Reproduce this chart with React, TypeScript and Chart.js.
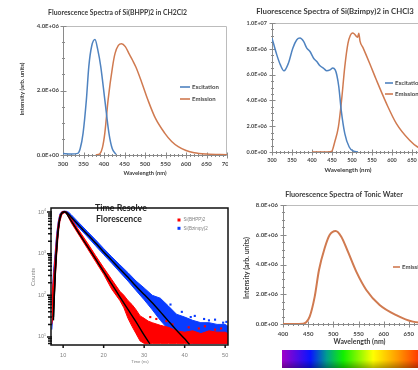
import React, { useEffect, useRef } from "react";
import { Chart, registerables } from "chart.js";

Chart.register(...registerables);

// ---------------- Chart 1: Si(BHPP)2 in CH2Cl2 ----------------
const bhppExcWavelength = [300, 320, 336, 342, 349, 357, 363, 370, 378, 385, 392, 402, 412, 420, 429];
const bhppExcIntensity = [0.05e6, 0.03e6, 0.05e6, 0.2e6, 0.68e6, 1.71e6, 2.75e6, 3.38e6, 3.58e6, 3.25e6, 2.75e6, 1.71e6, 0.68e6, 0.2e6, 0.02e6];
const bhppEmWavelength = [380, 390, 396, 402, 410, 421, 427, 435, 443, 452, 462, 470, 478, 492, 507, 525, 548, 565, 581, 600, 620, 650, 700];
const bhppEmIntensity = [0, 0.04e6, 0.22e6, 0.68e6, 1.71e6, 2.75e6, 3.15e6, 3.4e6, 3.45e6, 3.36e6, 3.12e6, 2.93e6, 2.72e6, 2.25e6, 1.71e6, 1.15e6, 0.68e6, 0.42e6, 0.26e6, 0.14e6, 0.07e6, 0.03e6, 0.01e6];
const bhppXTicks = [300, 350, 400, 450, 500, 550, 600, 650, 700];
const bhppYTicks = [0, 2e6, 4e6];

// ---------------- Chart 2: Si(Bzimpy)2 in CHCl3 ----------------
const bzExcWavelength = [300, 312, 321, 330, 341, 352, 362, 370, 379, 387, 395, 404, 412, 420, 429, 437, 445, 452, 458, 462, 467, 473, 482, 493, 503, 515];
const bzExcIntensity = [8.83e6, 7.53e6, 6.75e6, 6.29e6, 6.88e6, 8.05e6, 8.7e6, 8.83e6, 8.57e6, 8.05e6, 7.79e6, 7.27e6, 7.01e6, 6.68e6, 6.49e6, 6.29e6, 6.36e6, 6.52e6, 6.36e6, 5.97e6, 5.06e6, 3.25e6, 1.43e6, 0.39e6, 0.08e6, 0];
const bzEmWavelength = [400, 430, 449, 457, 466, 474, 482, 490, 496, 501, 506, 511, 514, 517, 520, 528, 544, 561, 586, 611, 644, 664, 700];
const bzEmIntensity = [0, 0, 0.05e6, 0.8e6, 1.95e6, 4.03e6, 6.62e6, 8.44e6, 9.05e6, 9.22e6, 9.15e6, 8.96e6, 8.9e6, 9.2e6, 8.6e6, 8.05e6, 6.88e6, 5.58e6, 3.77e6, 2.2e6, 0.91e6, 0.39e6, 0.1e6];
const bzXTicks = [300, 350, 400, 450, 500, 550, 600, 650, 700];
const bzYTicks = [0, 2e6, 4e6, 6e6, 8e6, 1e7];

// ---------------- Chart 3: Time resolved fluorescence ----------------
const decayXTicks = [10, 20, 30, 40, 50];
const decayYDecades = [1, 2, 3, 4];
const redTime = [7.2, 7.6, 8.0, 8.4, 8.8, 9.2, 9.7, 10.3, 10.8, 12, 14, 16, 18, 20, 22, 24, 25, 26, 27, 28, 29, 30, 31, 32, 34, 36, 38, 40, 42, 44, 46, 48, 50, 50.7];
const redLow = [20, 40, 200, 900, 3000, 6000, 8800, 9600, 9400, 5500, 2700, 1330, 650, 320, 140, 75, 50, 28, 18, 12, 8, 7, 7, 7, 7, 7, 7, 7, 7, 7, 7, 7, 7, 7];
const redHigh = [90, 250, 800, 2500, 5500, 8500, 10200, 10400, 10200, 6900, 3500, 1800, 900, 460, 240, 125, 100, 75, 60, 45, 32, 28, 24, 22, 19, 17, 14, 13, 14, 12, 14, 13, 13, 12];
const blueTime = [7.2, 7.6, 8.0, 8.4, 8.8, 9.2, 9.7, 10.3, 10.8, 11.4, 12, 14, 16, 18, 20, 22, 24, 26, 28, 30, 32, 34, 36, 38, 40, 42, 44, 46, 48, 50, 50.7];
const blueLow = [15, 50, 300, 1200, 3500, 6500, 9000, 9800, 9600, 8500, 6600, 4100, 2550, 1550, 950, 590, 360, 220, 130, 78, 45, 25, 15, 10, 8, 7, 7, 7, 7, 7, 7];
const blueHigh = [60, 350, 1000, 3000, 6000, 9000, 10300, 10500, 10400, 9800, 8600, 5400, 3400, 2150, 1330, 840, 540, 350, 220, 150, 100, 85, 55, 35, 30, 25, 22, 22, 20, 20, 18];
const redOutlierTime = [31.5, 33, 35.5, 37, 41, 43.5, 45, 47.5, 49];
const redOutlierCounts = [30, 27, 24, 20, 17, 16, 18, 15, 16];
const blueOutlierTime = [36.5, 39.3, 41.5, 42.5, 44.8, 46, 47.5, 49.5, 50.3];
const blueOutlierCounts = [60, 40, 30, 32, 27, 25, 26, 22, 23];
const redFitTime = [7.6, 8.0, 8.4, 8.8, 9.2, 9.6, 10.1, 10.6, 12, 14, 16, 18, 20, 22, 24, 26, 28, 30, 31.4];
const redFitCounts = [25, 250, 1300, 3800, 7000, 9200, 10000, 9800, 6100, 3000, 1500, 750, 370, 185, 92, 46, 23, 11, 6.8];
const blueFitTime = [7.6, 8.0, 8.4, 8.8, 9.2, 9.6, 10.2, 10.8, 12, 14, 16, 18, 20, 22, 24, 26, 28, 30, 32, 34, 36, 38, 40, 41.2];
const blueFitCounts = [30, 280, 1400, 4000, 7200, 9300, 10000, 9900, 7500, 4650, 2900, 1800, 1100, 690, 430, 270, 165, 105, 66, 40, 24, 14.5, 9, 6.6];
const decaySeriesNames = ["Si(BHPP)2", "Si(Bzimpy)2"];

// ---------------- Chart 4: Tonic water ----------------
const tonicWavelength = [400, 420, 440, 446, 453, 463, 471.5, 482.7, 492.6, 504.6, 515.8, 529, 545.6, 565.5, 592, 625, 658, 700];
const tonicIntensity = [0, 0, 0.02e6, 0.12e6, 0.49e6, 1.84e6, 3.63e6, 5.09e6, 5.98e6, 6.25e6, 5.87e6, 4.86e6, 3.52e6, 2.29e6, 1.28e6, 0.6e6, 0.16e6, 0.05e6];
const tonicXTicks = [400, 450, 500, 550, 600, 650, 700];
const tonicYTicks = [0, 2e6, 4e6, 6e6, 8e6];
const rainbowStops: [number, string][] = [
  [0, "#a000c8"],
  [0.21, "#0814ff"],
  [0.33, "#00a08c"],
  [0.45, "#10f000"],
  [0.67, "#ffff00"],
  [0.85, "#ff9a00"],
  [1, "#ff3c00"],
];

const BLUE = "#4f83c0";
const ORANGE = "#d07a50";
const TEXT = "#474747";
const TITLE = "#3a3a3a";

const pts = (xs: number[], ys: number[]) => xs.map((x, i) => ({ x, y: ys[i] }));

function sci(v: number) {
  if (v === 0) return "0.0E+00";
  const e = Math.floor(Math.log10(v) + 1e-9);
  const m = v / Math.pow(10, e);
  return `${m.toFixed(1)}E+${String(e).padStart(2, "0")}`;
}

// ---------- plugins ----------
const textPlugin = {
  id: "texts",
  afterDraw(chart: any, _a: any, opts: any) {
    const ctx = chart.ctx;
    (opts.items || []).forEach((t: any) => {
      ctx.save();
      const fam = t.family || "Lato";
      const w = t.weight || "bold";
      let size = t.size || 7;
      if (t.fitWidth) {
        ctx.font = `${w} 20px ${fam}`;
        size = (20 * t.fitWidth) / ctx.measureText(t.text).width;
      }
      ctx.font = `${w} ${size}px ${fam}`;
      ctx.fillStyle = t.color || TEXT;
      ctx.textAlign = t.align || "center";
      ctx.textBaseline = "middle";
      ctx.translate(t.x, t.y);
      if (t.rotate) ctx.rotate(-Math.PI / 2);
      ctx.fillText(t.text, 0, 0);
      ctx.restore();
    });
  },
};

const excelAxesPlugin = {
  id: "excelAxes",
  beforeDatasetsDraw(chart: any, _a: any, o: any) {
    const { ctx, chartArea: a } = chart;
    const xs = chart.scales.x;
    const ys = chart.scales.y;
    const L = Math.round(a.left) + 0.5;
    const B = Math.round(a.bottom) + 0.5;
    const T = Math.round(a.top) + 0.5;
    const R = Math.round(a.right) - 0.5;
    ctx.save();
    ctx.lineWidth = 1;
    ctx.strokeStyle = o.frameColor;
    ctx.beginPath();
    ctx.moveTo(L, T);
    ctx.lineTo(R, T);
    ctx.lineTo(R, B);
    ctx.stroke();
    ctx.strokeStyle = o.axisColor;
    ctx.beginPath();
    ctx.moveTo(L, T);
    ctx.lineTo(L, B);
    ctx.lineTo(R, B);
    const isMajor = (v: number, step: number) => Math.abs(v / step - Math.round(v / step)) < 1e-6;
    for (let v = xs.min; v <= xs.max + 1e-6; v += o.xMinor) {
      const px = Math.round(xs.getPixelForValue(v)) + 0.5;
      const h = isMajor(v, o.xMajor) ? 3 : 1.5;
      ctx.moveTo(px, B - h);
      ctx.lineTo(px, B + h);
    }
    for (let v = ys.min; v <= ys.max * (1 + 1e-9); v += o.yMinor) {
      const py = Math.round(ys.getPixelForValue(v)) + 0.5;
      const h = isMajor(v, o.yMajor) ? 3 : 1.5;
      ctx.moveTo(L - h, py);
      ctx.lineTo(L + h, py);
    }
    ctx.stroke();
    ctx.restore();
  },
};

const lineLegendPlugin = {
  id: "lineLegend",
  afterDraw(chart: any, _a: any, o: any) {
    const ctx = chart.ctx;
    ctx.save();
    chart.data.datasets.forEach((ds: any, i: number) => {
      const y = o.y + i * o.gap;
      ctx.strokeStyle = ds.borderColor;
      ctx.lineWidth = o.lineWidth;
      ctx.beginPath();
      ctx.moveTo(o.x, y);
      ctx.lineTo(o.x + o.len, y);
      ctx.stroke();
      ctx.fillStyle = TEXT;
      ctx.font = `bold ${o.size}px Lato`;
      ctx.textAlign = "left";
      ctx.textBaseline = "middle";
      ctx.fillText(ds.label, o.x + o.len + 2, y);
    });
    ctx.restore();
  },
};

const rainbowPlugin = {
  id: "rainbow",
  afterDraw(chart: any, _a: any, o: any) {
    if (!o || !o.show) return;
    const ctx = chart.ctx;
    ctx.save();
    const g = ctx.createLinearGradient(o.x, 0, o.x + o.w, 0);
    rainbowStops.forEach(([p, c]) => g.addColorStop(p, c));
    ctx.fillStyle = g;
    ctx.fillRect(o.x, o.y, o.w, o.h);
    const v = ctx.createLinearGradient(0, o.y, 0, o.y + o.h);
    v.addColorStop(0, "rgba(0,0,0,0)");
    v.addColorStop(0.55, "rgba(0,0,0,0)");
    v.addColorStop(1, "rgba(0,0,0,0.3)");
    ctx.fillStyle = v;
    ctx.fillRect(o.x, o.y, o.w, o.h);
    ctx.restore();
  },
};

const decayAxesPlugin = {
  id: "decayAxes",
  afterDraw(chart: any, _a: any, o: any) {
    const { ctx, chartArea: a } = chart;
    const xs = chart.scales.x;
    const ys = chart.scales.y;
    ctx.save();
    ctx.strokeStyle = "#111";
    ctx.lineWidth = 1.5;
    ctx.strokeRect(a.left, a.top, a.right - a.left, a.bottom - a.top);
    ctx.beginPath();
    for (let e = 0; e <= 4; e++) {
      for (let m = 1; m <= 9; m++) {
        const v = m * Math.pow(10, e);
        if (v < ys.min || v > ys.max) continue;
        const py = ys.getPixelForValue(v);
        const len = m === 1 ? 4 : 3;
        ctx.moveTo(a.left - len, py);
        ctx.lineTo(a.left + 1, py);
      }
    }
    o.xTicks.forEach((v: number) => {
      const px = xs.getPixelForValue(v);
      ctx.moveTo(px, a.bottom);
      ctx.lineTo(px, a.bottom + 3);
    });
    ctx.stroke();
    ctx.fillStyle = "#808080";
    ctx.textBaseline = "middle";
    ctx.textAlign = "center";
    ctx.font = "5.5px 'Liberation Sans'";
    o.xTicks.forEach((v: number) => ctx.fillText(String(v), xs.getPixelForValue(v), a.bottom + 10));
    o.yDecades.forEach((e: number) => {
      const py = ys.getPixelForValue(Math.pow(10, e));
      ctx.font = "3.5px 'Liberation Sans'";
      ctx.textAlign = "right";
      const ew = ctx.measureText(String(e)).width;
      ctx.fillText(String(e), o.yLabelRight, py - 2);
      ctx.font = "5.5px 'Liberation Sans'";
      ctx.fillText("10", o.yLabelRight - ew, py);
    });
    chart.data.datasets
      .filter((d: any) => d.legendSquare)
      .forEach((d: any, i: number) => {
        const y = o.legendY + i * o.legendGap;
        ctx.fillStyle = d.legendSquare;
        ctx.fillRect(o.legendX - 1.5, y - 1.5, 3, 3);
        ctx.fillStyle = "#808080";
        ctx.font = "4.5px 'Liberation Sans'";
        ctx.textAlign = "left";
        ctx.fillText(d.label, o.legendX + 4.5, y);
      });
    ctx.restore();
  },
};

const zeroPadX = (h: number) => (ax: any) => {
  ax.height = h;
  ax.paddingLeft = 0;
  ax.paddingRight = 0;
  ax.paddingTop = 0;
  ax.paddingBottom = 0;
};
const zeroPadY = (w: number) => (ax: any) => {
  ax.width = w;
  ax.paddingLeft = 0;
  ax.paddingRight = 0;
  ax.paddingTop = 0;
  ax.paddingBottom = 0;
};

// ---------- configs ----------
function spectrumConfig(p: any) {
  return {
    type: "line",
    data: { datasets: p.datasets },
    plugins: [excelAxesPlugin, lineLegendPlugin, textPlugin, rainbowPlugin],
    options: {
      responsive: false,
      animation: false,
      devicePixelRatio: 1,
      events: [],
      layout: { autoPadding: false, padding: { left: 0, right: p.padRight, top: p.padTop, bottom: 0 } },
      scales: {
        x: {
          type: "linear",
          min: p.xMin,
          max: p.xMax,
          grid: { display: false, drawTicks: false },
          border: { display: false },
          afterBuildTicks: (ax: any) => {
            ax.ticks = p.xTicks.map((v: number) => ({ value: v }));
          },
          afterFit: zeroPadX(p.xAxisHeight),
          ticks: { autoSkip: false, maxRotation: 0, padding: p.tickPadX, color: TEXT, font: { family: "Lato", weight: "bold", size: p.tickSize } },
        },
        y: {
          type: "linear",
          min: 0,
          max: p.yMax,
          grid: { display: false, drawTicks: false },
          border: { display: false },
          afterBuildTicks: (ax: any) => {
            ax.ticks = p.yTicks.map((v: number) => ({ value: v }));
          },
          afterFit: zeroPadY(p.yAxisWidth),
          ticks: { padding: p.tickPadY, color: TEXT, font: { family: "Lato", weight: "bold", size: p.tickSize }, callback: (v: number) => sci(v) },
        },
      },
      plugins: {
        legend: { display: false },
        tooltip: { enabled: false },
        title: { display: false },
        excelAxes: { frameColor: "#bcbcbc", axisColor: "#8a8a8a", xMinor: 10, xMajor: 50, yMinor: p.yMinor, yMajor: p.yMajor },
        lineLegend: p.legend,
        texts: { items: p.texts },
        rainbow: p.rainbow || { show: false },
      },
    },
  };
}

const lineDs = (label: string, xs: number[], ys: number[], color: string, width: number) => ({
  label,
  data: pts(xs, ys),
  borderColor: color,
  backgroundColor: color,
  borderWidth: width,
  pointRadius: 0,
  cubicInterpolationMode: "monotone",
  fill: false,
});

const chart1 = () =>
  spectrumConfig({
    datasets: [
      lineDs("Excitation", bhppExcWavelength, bhppExcIntensity, BLUE, 1.5),
      lineDs("Emission", bhppEmWavelength, bhppEmIntensity, ORANGE, 1.5),
    ],
    xMin: 300, xMax: 700, xTicks: bhppXTicks, yMax: 4e6, yTicks: bhppYTicks, yMinor: 0.5e6, yMajor: 2e6,
    padRight: 2, padTop: 26, xAxisHeight: 25, yAxisWidth: 63, tickPadX: 5, tickPadY: 4, tickSize: 6,
    legend: { x: 180, y: 87, gap: 12, len: 10, size: 6, lineWidth: 1.6 },
    texts: [
      { text: "Fluorescence Spectra of Si(BHPP)2 in CH2Cl2", x: 117.5, y: 13, fitWidth: 139, color: TITLE },
      { text: "Intensity (arb. units)", x: 21.7, y: 89, fitWidth: 53, rotate: true, color: TITLE },
      { text: "Wavelength (nm)", x: 145, y: 173, fitWidth: 43, color: TITLE },
    ],
  });

const chart2 = () =>
  spectrumConfig({
    datasets: [
      lineDs("Excitation", bzExcWavelength, bzExcIntensity, BLUE, 1.5),
      lineDs("Emission", bzEmWavelength, bzEmIntensity, ORANGE, 1.5),
    ],
    xMin: 300, xMax: 700, xTicks: bzXTicks, yMax: 1e7, yTicks: bzYTicks, yMinor: 0.5e6, yMajor: 2e6,
    padRight: 8, padTop: 23, xAxisHeight: 28, yAxisWidth: 44, tickPadX: 5, tickPadY: 5, tickSize: 5.5,
    legend: { x: 157, y: 83, gap: 11, len: 8, size: 6, lineWidth: 1.6 },
    texts: [
      { text: "Fluorescence Spectra of Si(Bzimpy)2 in CHCl3", x: 107, y: 11, fitWidth: 158, color: TITLE },
      { text: "Wavelength (nm)", x: 120, y: 170, fitWidth: 47, color: TITLE },
    ],
  });

const chart4 = () =>
  spectrumConfig({
    datasets: [lineDs("Emission", tonicWavelength, tonicIntensity, ORANGE, 2)],
    xMin: 400, xMax: 700, xTicks: tonicXTicks, yMax: 8e6, yTicks: tonicYTicks, yMinor: 0.5e6, yMajor: 2e6,
    padRight: 4, padTop: 25, xAxisHeight: 46, yAxisWidth: 48, tickPadX: 6, tickPadY: 5, tickSize: 6,
    legend: { x: 158, y: 87, gap: 11, len: 7, size: 6, lineWidth: 1.6 },
    texts: [
      { text: "Fluorescence Spectra of Tonic Water", x: 109, y: 15, fitWidth: 118, color: TITLE },
      { text: "Intensity (arb. units)", x: 12, y: 88, fitWidth: 62, rotate: true, color: TITLE },
      { text: "Wavelength (nm)", x: 124.5, y: 162, fitWidth: 52, color: TITLE },
    ],
    rainbow: { show: true, x: 47, y: 170, w: 136, h: 18 },
  });

const chart3 = () => {
  const band = (label: string, xs: number[], ys: number[], color: string, fill: any) => ({
    label,
    data: pts(xs, ys),
    borderColor: color,
    backgroundColor: color,
    borderWidth: 1,
    pointRadius: 0,
    tension: 0,
    fill,
  });
  const fit = (label: string, xs: number[], ys: number[]) => ({
    label,
    data: pts(xs, ys),
    borderColor: "#000",
    borderWidth: 1.4,
    pointRadius: 0,
    tension: 0.3,
    fill: false,
  });
  const scatter = (label: string, xs: number[], ys: number[], color: string) => ({
    label,
    data: pts(xs, ys),
    showLine: false,
    pointStyle: "rect",
    pointRadius: 1.5,
    pointBorderWidth: 0,
    pointBackgroundColor: color,
    borderColor: color,
    fill: false,
  });
  return {
    type: "line",
    data: {
      datasets: [
        fit("Si(BHPP)2 fit", redFitTime, redFitCounts),
        fit("Si(Bzimpy)2 fit", blueFitTime, blueFitCounts),
        scatter("red outliers", redOutlierTime, redOutlierCounts, "#ff0000"),
        band("Si(BHPP)2 low", redTime, redLow, "#ff0000", false),
        { ...band(decaySeriesNames[0], redTime, redHigh, "#ff0000", "-1"), legendSquare: "#ff0000" },
        scatter("blue outliers", blueOutlierTime, blueOutlierCounts, "#0a3cff"),
        band("Si(Bzimpy)2 low", blueTime, blueLow, "#0a3cff", false),
        { ...band(decaySeriesNames[1], blueTime, blueHigh, "#0a3cff", "-1"), legendSquare: "#0a3cff" },
      ],
    },
    plugins: [textPlugin, decayAxesPlugin],
    options: {
      responsive: false,
      animation: false,
      devicePixelRatio: 1,
      events: [],
      layout: { autoPadding: false, padding: { left: 0, right: 7, top: 28, bottom: 0 } },
      scales: {
        x: {
          type: "linear",
          min: 7.0,
          max: 50.7,
          grid: { display: false, drawTicks: false },
          border: { display: false },
          ticks: { display: false },
          afterFit: zeroPadX(25),
        },
        y: {
          type: "logarithmic",
          min: 6.4,
          max: 12500,
          grid: { display: false, drawTicks: false },
          border: { display: false },
          ticks: { display: false },
          afterFit: zeroPadY(51),
        },
      },
      plugins: {
        legend: { display: false },
        tooltip: { enabled: false },
        decayAxes: { xTicks: decayXTicks, yDecades: decayYDecades, yLabelRight: 46, legendX: 179, legendY: 40, legendGap: 8.3 },
        texts: {
          items: [
            { text: "Time Resolve", x: 121, y: 28.5, fitWidth: 52, color: "#262626" },
            { text: "Florescence", x: 119, y: 39, fitWidth: 46, color: "#262626" },
            { text: "Counts", x: 33, y: 97, fitWidth: 18, rotate: true, color: "#808080", weight: "normal", family: "'Liberation Sans'" },
            { text: "Time (ns)", x: 140, y: 182, fitWidth: 17.6, color: "#808080", weight: "normal", family: "'Liberation Sans'" },
          ],
        },
      },
    },
  };
};

function ChartBox({ left, top, width, height, make, z }: any) {
  const ref = useRef<HTMLCanvasElement>(null);
  useEffect(() => {
    const chart = new Chart(ref.current as HTMLCanvasElement, make() as any);
    return () => chart.destroy();
  }, []);
  return (
    <div style={{ position: "absolute", left, top, width, height, background: "#fff", zIndex: z }}>
      <canvas ref={ref} width={width} height={height} style={{ width, height, display: "block" }} />
    </div>
  );
}

export default function App() {
  return (
    <div style={{ position: "fixed", left: 0, top: 0, width: 418, height: 370, overflow: "hidden", background: "#fff" }}>
      <ChartBox left={0} top={0} width={229} height={180} make={chart1} z={1} />
      <ChartBox left={228} top={0} width={212} height={180} make={chart2} z={2} />
      <ChartBox left={0} top={180} width={235} height={190} make={chart3} z={1} />
      <ChartBox left={235} top={180} width={203} height={190} make={chart4} z={2} />
    </div>
  );
}
